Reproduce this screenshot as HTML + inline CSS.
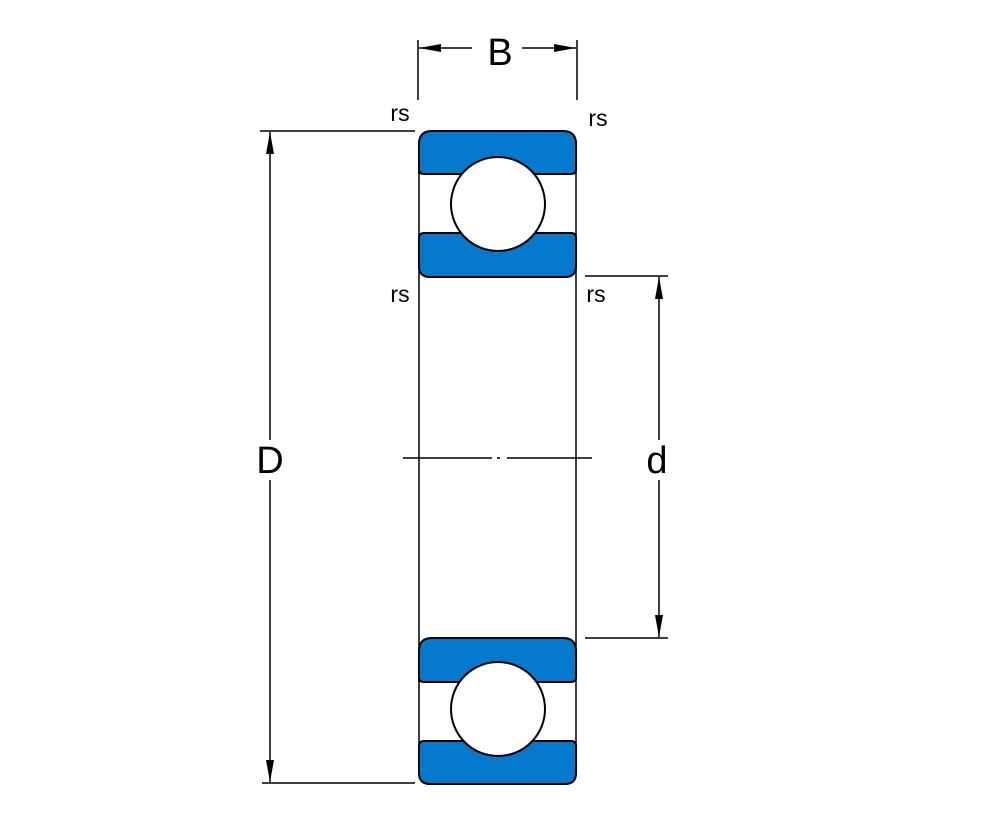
<!DOCTYPE html>
<html><head><style>body{margin:0;background:#fff}</style></head><body>
<svg width="1000" height="833" xmlns="http://www.w3.org/2000/svg" font-family="Liberation Sans, sans-serif">
<defs>
<marker id="a" markerWidth="22" markerHeight="8" refX="22" refY="4" orient="auto" markerUnits="userSpaceOnUse"><path d="M0,0 L22,4 L0,8 Z" fill="#000"/></marker>
</defs>
<g stroke="#000" stroke-width="1.5" fill="none">
<!-- side lines -->
<line x1="419" y1="140" x2="419" y2="775"/>
<line x1="576" y1="140" x2="576" y2="775"/>
<!-- B ext -->
<line x1="418" y1="40" x2="418" y2="100"/>
<line x1="577" y1="40" x2="577" y2="100"/>
<line x1="472" y1="48" x2="419" y2="48" marker-end="url(#a)"/>
<line x1="522" y1="48" x2="576" y2="48" marker-end="url(#a)"/>
<!-- D -->
<line x1="260" y1="131" x2="415" y2="131"/>
<line x1="262" y1="783" x2="415" y2="783"/>
<line x1="270" y1="440" x2="270" y2="132" marker-end="url(#a)"/>
<line x1="270" y1="480" x2="270" y2="782" marker-end="url(#a)"/>
<!-- d -->
<line x1="585" y1="276" x2="668" y2="276"/>
<line x1="585" y1="638" x2="668" y2="638"/>
<line x1="659" y1="440" x2="659" y2="277" marker-end="url(#a)"/>
<line x1="659" y1="480" x2="659" y2="637" marker-end="url(#a)"/>
<!-- centerline -->
<line x1="403" y1="458" x2="492" y2="458"/>
<line x1="497" y1="458" x2="500" y2="458"/>
<line x1="507" y1="458" x2="592" y2="458"/>
</g>
<g stroke="#000" stroke-width="2" fill="#0479cd">
<path d="M419,174 V144 Q419,131 432,131 H563 Q576,131 576,144 V169 Q576,174 571,174 H424 Q419,174 419,169 Z"/>
<path d="M419,238 Q419,233 424,233 H571 Q576,233 576,238 V266 Q576,277 565,277 H430 Q419,277 419,266 Z"/>
<path d="M419,682 V651 Q419,638 432,638 H563 Q576,638 576,651 V677 Q576,682 571,682 H424 Q419,682 419,677 Z"/>
<path d="M419,746 Q419,741 424,741 H571 Q576,741 576,746 V773 Q576,784 565,784 H430 Q419,784 419,773 Z"/>
<circle cx="498" cy="204" r="47" fill="#fff"/>
<circle cx="498" cy="709" r="47" fill="#fff"/>
</g>
<g font-size="38" text-anchor="middle">
<text x="500" y="65">B</text>
<text x="270" y="473">D</text>
<text x="657" y="473">d</text>
</g>
<g font-size="23" text-anchor="middle">
<text x="400" y="121">rs</text>
<text x="598" y="126">rs</text>
<text x="400" y="302">rs</text>
<text x="596" y="302">rs</text>
</g>
</svg>
</body></html>
